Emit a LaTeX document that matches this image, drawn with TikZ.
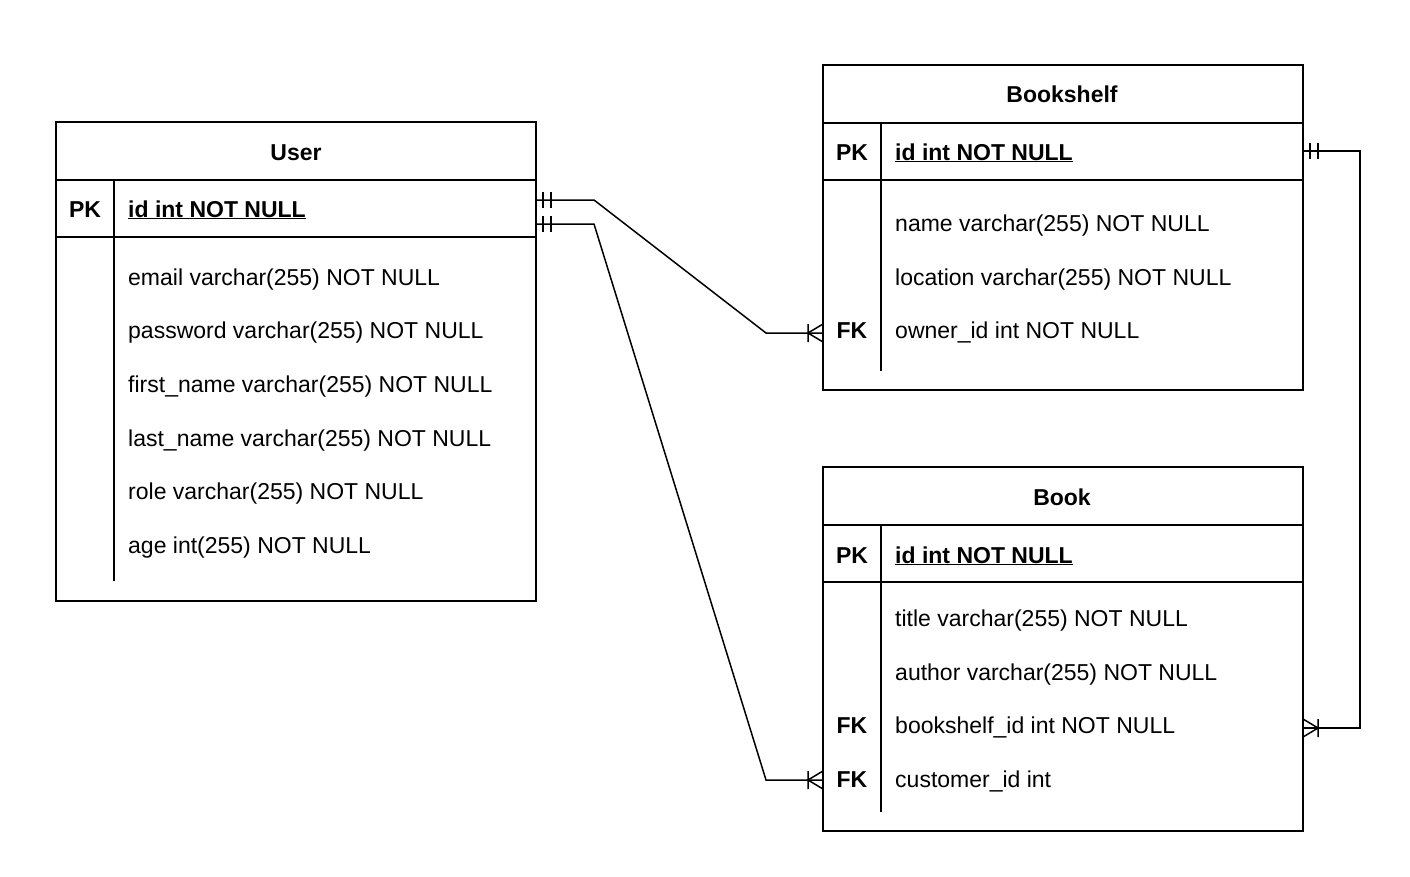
\documentclass[tikz,border=0pt]{standalone}
\usepackage{fontspec}
\setmainfont{Liberation Sans}
\begin{document}
\begin{tikzpicture}[x=1pt,y=-1pt,
  every node/.style={inner sep=0pt, font=\fontsize{23}{27}\selectfont},
  tbl/.style={draw, line width=1.7pt, rectangle, outer sep=0pt, minimum width=480pt, anchor=north west},
  sep/.style={line width=1.7pt},
  hdr/.style={anchor=base, font=\fontsize{23}{27}\selectfont\bfseries},
  keyl/.style={anchor=base, font=\fontsize{23}{27}\selectfont\bfseries},
  fld/.style={anchor=base west},
  rel/.style={line width=1.5pt, line join=miter},
  relmark/.style={line width=1.5pt}]
\useasboundingbox (0,0) rectangle (1410,876);

% ---------- User ----------
\node[tbl, minimum height=479pt] (user) at (56,122) {};
\draw[sep] (56,180) -- (536,180);
\draw[sep] (56,237) -- (536,237);
\draw[sep] (114,180) -- (114,581);
\node[hdr] (userT) at (296,160) {User};
\node[keyl] (userPK) at (85,217) {PK};
\node[fld, font=\fontsize{23}{27}\selectfont\bfseries] (userId) at (128,217) {\underline{id int NOT NULL}};
\node[fld] (uf1) at (128,285) {email varchar(255) NOT NULL};
\node[fld] (uf2) at (128,338) {password varchar(255) NOT NULL};
\node[fld] (uf3) at (128,392) {first\_name varchar(255) NOT NULL};
\node[fld] (uf4) at (128,446) {last\_name varchar(255) NOT NULL};
\node[fld] (uf5) at (128,499) {role varchar(255) NOT NULL};
\node[fld] (uf6) at (128,553) {age int(255) NOT NULL};

% ---------- Bookshelf ----------
\node[tbl, minimum height=325pt] (shelf) at (823,65) {};
\draw[sep] (823,123) -- (1303,123);
\draw[sep] (823,180) -- (1303,180);
\draw[sep] (881,123) -- (881,371);
\node[hdr] (shelfT) at (1062,102) {Bookshelf};
\node[keyl] (shelfPK) at (852,160) {PK};
\node[fld, font=\fontsize{23}{27}\selectfont\bfseries] (shelfId) at (895,160) {\underline{id int NOT NULL}};
\node[fld] (sf1) at (895,231) {name varchar(255) NOT NULL};
\node[fld] (sf2) at (895,285) {location varchar(255) NOT NULL};
\node[keyl] (sfk) at (852,338) {FK};
\node[fld] (sf3) at (895,338) {owner\_id int NOT NULL};

% ---------- Book ----------
\node[tbl, minimum height=364pt] (book) at (823,467) {};
\draw[sep] (823,525) -- (1303,525);
\draw[sep] (823,582) -- (1303,582);
\draw[sep] (881,525) -- (881,812);
\node[hdr] (bookT) at (1062,505) {Book};
\node[keyl] (bookPK) at (852,563) {PK};
\node[fld, font=\fontsize{23}{27}\selectfont\bfseries] (bookId) at (895,563) {\underline{id int NOT NULL}};
\node[fld] (bf1) at (895,626) {title varchar(255) NOT NULL};
\node[fld] (bf2) at (895,680) {author varchar(255) NOT NULL};
\node[keyl] (bfk1) at (852,733) {FK};
\node[fld] (bf3) at (895,733) {bookshelf\_id int NOT NULL};
\node[keyl] (bfk2) at (852,787) {FK};
\node[fld] (bf4) at (895,787) {customer\_id int};

% ---------- connection points ----------
\coordinate (u1) at (536,200);
\coordinate (u2) at (536,224);
\coordinate (s1) at (823,333);
\coordinate (b2) at (823,780);
\coordinate (sp) at (1303,151);
\coordinate (b1) at (1303,728);

% ---------- relations ----------
\draw[rel] (u1) -- ++(58,0) -- (766,333) -- (s1);
\draw[rel] (u2) -- ++(58,0) -- (766,780) -- (b2);
\draw[rel] (sp) -- (1360,151) -- (1360,728) -- (b1);

% mandatory-one marks
\draw[relmark] (543,192) -- (543,208) (551,192) -- (551,208);
\draw[relmark] (543,216) -- (543,232) (551,216) -- (551,232);
\draw[relmark] (1310,143) -- (1310,159) (1318,143) -- (1318,159);

% crow's feet (one or many)
\draw[relmark] (808,324) -- (808,342) (823,324) -- (808,333) -- (823,342);
\draw[relmark] (808,771) -- (808,789) (823,771) -- (808,780) -- (823,789);
\draw[relmark] (1318,719) -- (1318,737) (1303,719) -- (1318,728) -- (1303,737);
\end{tikzpicture}
\end{document}
